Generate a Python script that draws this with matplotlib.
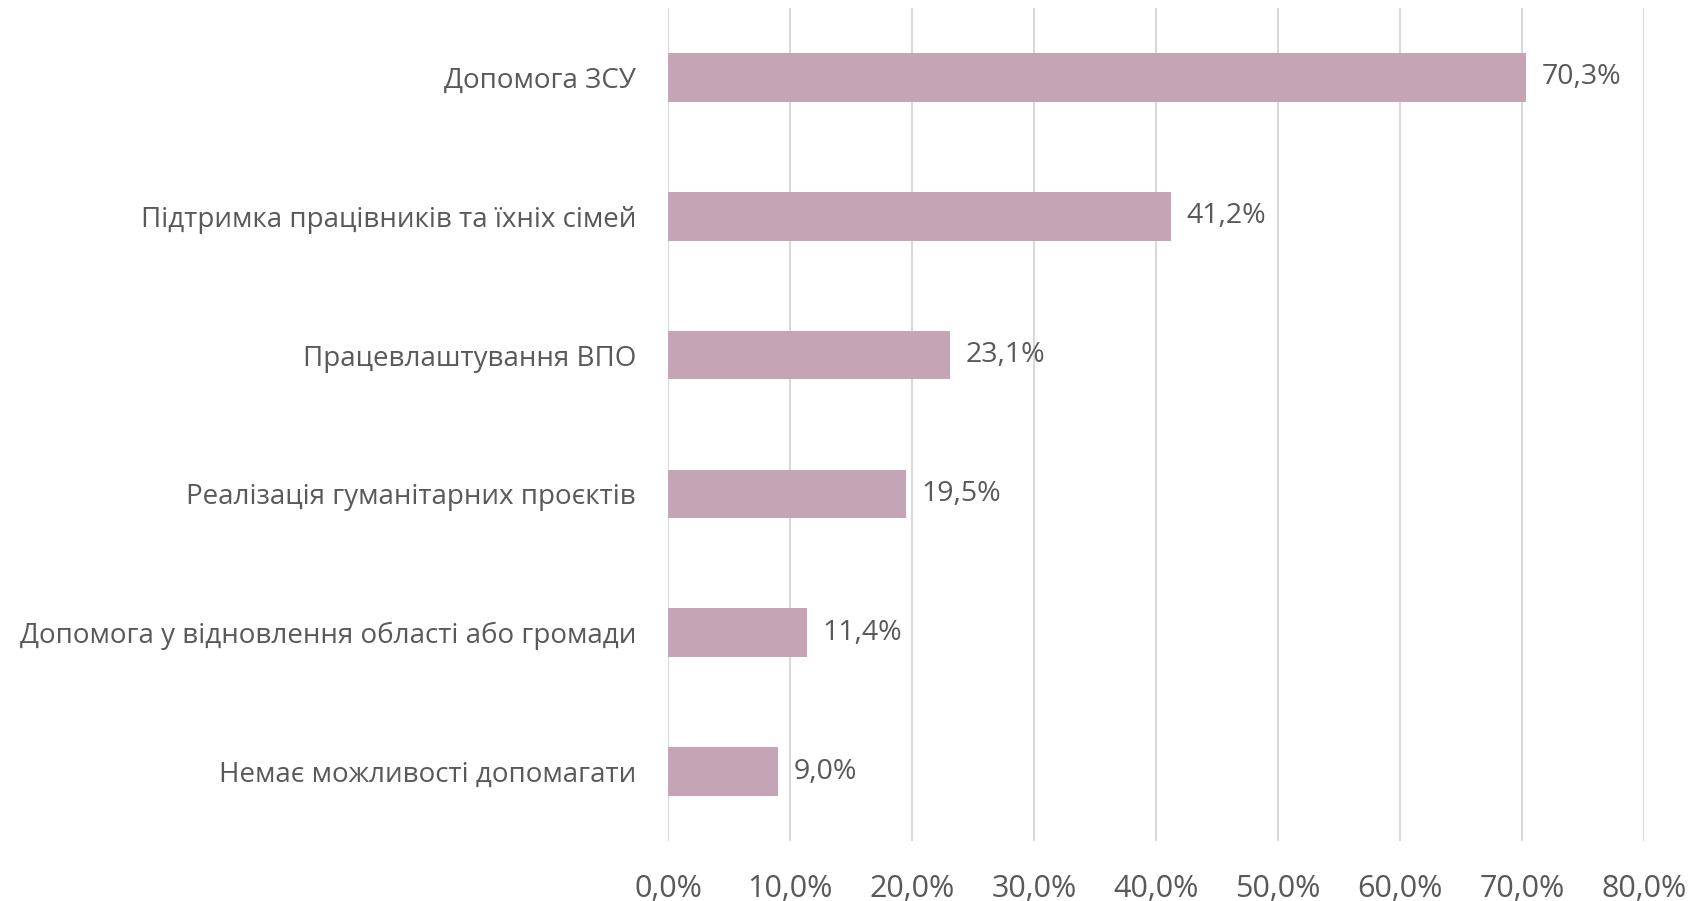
import matplotlib.pyplot as plt
from matplotlib.ticker import FuncFormatter

plt.rcParams['font.family'] = ['Open Sans', 'DejaVu Sans']

categories = ['Допомога ЗСУ',
              'Підтримка працівників та їхніх сімей',
              'Працевлаштування ВПО',
              'Реалізація гуманітарних проєктів',
              'Допомога у відновлення області або громади',
              'Немає можливості допомагати']
values = [70.3, 41.2, 23.1, 19.5, 11.4, 9.0]

grey = '#595959'
fig = plt.figure(figsize=(16.9, 9.01), dpi=100)
ax = fig.add_axes([668/1690, 60/901, 976/1690, 833/901])

y = list(range(len(categories)))[::-1]
bars = ax.barh(y, values, height=0.35, color='#C5A5B5', zorder=2)
for b, v in zip(bars, values):
    ax.text(b.get_width() + 1.3, b.get_y() + b.get_height()/2,
            f'{v:.1f}%'.replace('.', ','), va='center', ha='left',
            fontsize=20.5, color=grey)

ax.set_xlim(0, 80)
ax.set_ylim(-0.5, 5.5)
ax.set_xticks(range(0, 81, 10))
ax.xaxis.set_major_formatter(FuncFormatter(lambda x, p: f'{x:.1f}%'.replace('.', ',')))
ax.set_yticks(y)
ax.set_yticklabels(categories)
ax.tick_params(axis='x', length=0, pad=24, labelsize=22, labelcolor=grey)
ax.tick_params(axis='y', length=0, pad=23, labelsize=20, labelcolor=grey)
ax.grid(axis='x', color='#D9D9D9', linewidth=1.5, zorder=0)
for s in ax.spines.values():
    s.set_visible(False)

plt.savefig('out.png')
